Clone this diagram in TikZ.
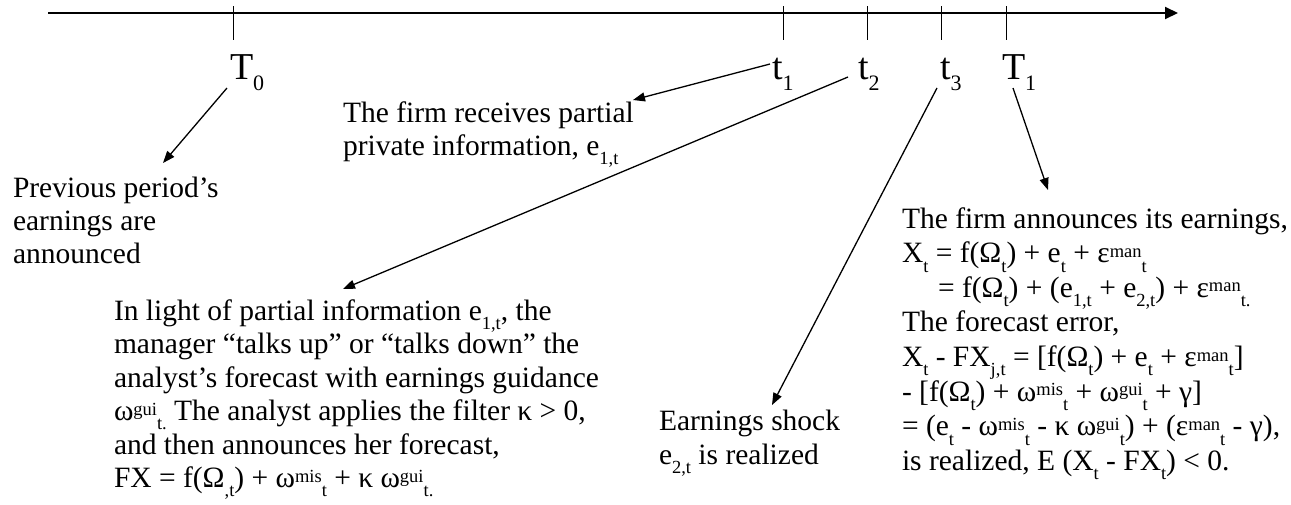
\documentclass[tikz,border=0pt]{standalone}
\usepackage{fontspec}
\setmainfont{Liberation Serif}
\usetikzlibrary{arrows.meta}
\newcommand\sbs[1]{\raisebox{-0.32em}{\fontsize{18.5}{18.5}\selectfont #1}}
\newcommand\sps[1]{\raisebox{0.18em}{\fontsize{18.5}{18.5}\selectfont #1}}
\newcommand\lsb[1]{\raisebox{-0.29em}{\fontsize{22}{22}\selectfont #1}}
\begin{document}
\begin{tikzpicture}[x=1pt,y=-1pt,
  txt/.style={anchor=base west,inner sep=0pt,outer sep=0pt,font=\fontsize{29.5}{33.5}\selectfont},
  lbl/.style={anchor=base west,inner sep=0pt,outer sep=0pt,font=\fontsize{38}{40}\selectfont},
  ptr/.style={line width=1.3pt,-{Triangle[length=12pt,width=9pt]}},
  axisline/.style={line width=2pt,-{Triangle[length=13pt,width=12pt]}},
  tickline/.style={line width=1pt}]
\useasboundingbox (0,0) rectangle (1291,504);
% axis
\coordinate (axs) at (48,13);
\coordinate (axe) at (1178,13);
\draw[axisline] (axs) -- (axe);
% ticks
\foreach \n/\x in {k0/233,k1/783,k2/867,k3/941,k4/1006}{
  \coordinate (\n top) at (\x,6);
  \coordinate (\n bot) at (\x,40);
  \draw[tickline] (\n top) -- (\n bot);
}
% labels
\node[lbl] (T0) at (230,79) {T\lsb{0}};
\node[lbl] (t1) at (772,79) {t\lsb{1}};
\node[lbl] (t2) at (858,79) {t\lsb{2}};
\node[lbl] (t3) at (940,79) {t\lsb{3}};
\node[lbl] (T1) at (1002,79) {T\lsb{1}};
% texts
\node[txt] (prevA) at (13,197) {Previous period’s};
\node[txt] (prevB) at (13,230) {earnings are};
\node[txt] (prevC) at (13,263) {announced};

\node[txt] (firmA) at (343,122) {The firm receives partial};
\node[txt] (firmB) at (343,155) {private information, e\sbs{1,t}};

\node[txt] (lA) at (114,320) {In light of partial information e\sbs{1,t}, the};
\node[txt] (lB) at (114,353.5) {manager “talks up” or “talks down” the};
\node[txt] (lC) at (114,387) {analyst’s forecast with earnings guidance};
\node[txt] (lD) at (114,420.5) {ω\sps{gui}\sbs{t.} The analyst applies the filter κ > 0,};
\node[txt] (lE) at (114,454) {and then announces her forecast,};
\node[txt] (lF) at (114,487.5) {FX = f(Ω\sbs{,t}) + ω\sps{mis}\sbs{t} + κ ω\sps{gui}\sbs{t.}};

\node[txt] (shA) at (659,430) {Earnings shock};
\node[txt] (shB) at (659,464) {e\sbs{2,t} is realized};

\node[txt] (rA) at (902,228) {The firm announces its earnings,};
\node[txt] (rB) at (902,262.6) {X\sbs{t} = f(Ω\sbs{t}) + e\sbs{t} + ε\sps{man}\sbs{t}};
\node[txt] (rC) at (938,297.2) {= f(Ω\sbs{t}) + (e\sbs{1,t} + e\sbs{2,t}) + ε\sps{man}\sbs{t.}};
\node[txt] (rD) at (902,331.8) {The forecast error,};
\node[txt] (rE) at (902,366.4) {X\sbs{t} - FX\sbs{j,t} = [f(Ω\sbs{t}) + e\sbs{t} + ε\sps{man}\sbs{t}]};
\node[txt] (rF) at (902,401) {- [f(Ω\sbs{t}) + ω\sps{mis}\sbs{t} + ω\sps{gui}\sbs{t} + γ]};
\node[txt] (rG) at (902,435.6) {= (e\sbs{t} - ω\sps{mis}\sbs{t} - κ ω\sps{gui}\sbs{t}) + (ε\sps{man}\sbs{t} - γ),};
\node[txt] (rH) at (902,470.2) {is realized, E (X\sbs{t} - FX\sbs{t}) < 0.};
% arrows
\coordinate (sT0) at (227,88);  \coordinate (eT0) at (163,163);
\coordinate (st1) at (770,64);  \coordinate (et1) at (633,100);
\coordinate (st2) at (848,77);  \coordinate (et2) at (343,289);
\coordinate (st3) at (937,88);  \coordinate (et3) at (772,405);
\coordinate (sT1) at (1013,88); \coordinate (eT1) at (1048,190);
\draw[ptr] (sT0) -- (eT0);
\draw[ptr] (st1) -- (et1);
\draw[ptr] (st2) -- (et2);
\draw[ptr] (st3) -- (et3);
\draw[ptr] (sT1) -- (eT1);
\end{tikzpicture}
\end{document}
